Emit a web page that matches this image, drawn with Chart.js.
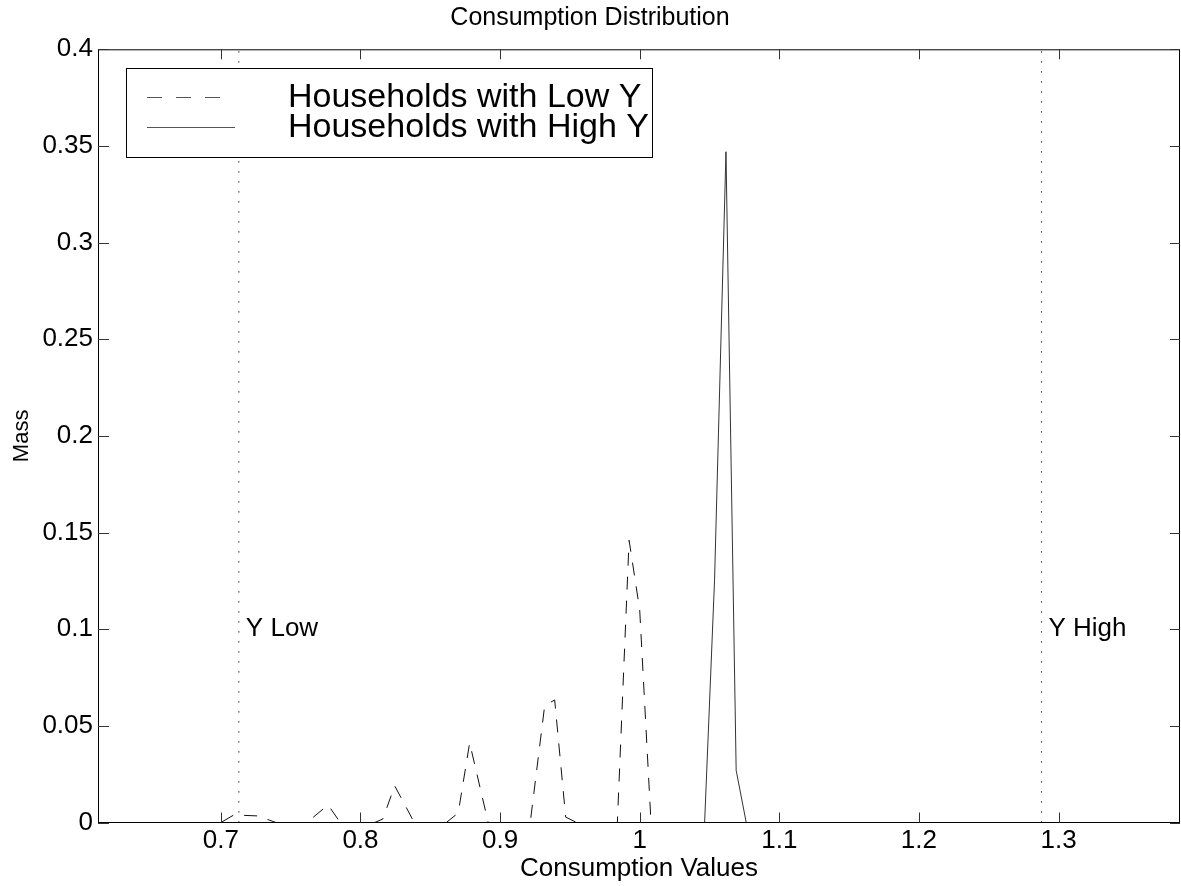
<!DOCTYPE html>
<html>
<head>
<meta charset="utf-8">
<script src="https://cdn.jsdelivr.net/npm/chart.js@4.4.1/dist/chart.umd.min.js"></script>
<style>
  html, body { margin: 0; padding: 0; background: #fff; }
  #wrap { width: 1181px; height: 886px; position: relative; }
</style>
</head>
<body>
<div id="wrap"><canvas id="myChart"></canvas></div>
<script>
// valores
const lowX = [0.615, 0.700, 0.7093, 0.7265, 0.7394, 0.7616, 0.7768, 0.7855, 0.8102, 0.8160, 0.8245, 0.8385,
  0.8615, 0.8700, 0.8782, 0.8915, 0.9216, 0.9319, 0.9391, 0.9470, 0.9548, 0.9840, 0.9924, 1.0000,
  1.0078, 1.0142, 1.385];
const lowY = [0, 0, 0.0039, 0.0034, 0, 0, 0.0091, 0, 0, 0.0018, 0.0190, 0,
  0, 0.0049, 0.0412, 0, 0, 0.0603, 0.0634, 0.0028, 0, 0, 0.146, 0.110,
  0.0041, 0, 0];
const highX = [0.615, 1.0465, 1.0536, 1.0618, 1.0691, 1.0763, 1.385];
const highY = [0, 0, 0.125, 0.347, 0.027, 0, 0];

const xTicks = [0.7, 0.8, 0.9, 1.0, 1.1, 1.2, 1.3];
const yTicks = [0, 0.05, 0.1, 0.15, 0.2, 0.25, 0.3, 0.35, 0.4];
const refX = [0.7129, 1.2878];
const refLabels = ['Y Low', 'Y High'];
const refLabelY = 0.1;
const seriesNames = ['Households with Low Y', 'Households with High Y'];

const FONT = "'Liberation Sans', Arial, Helvetica, sans-serif";
Chart.defaults.font.family = FONT;
Chart.defaults.color = '#000';

const pts = (xs, ys) => xs.map((v, i) => ({ x: v, y: ys[i] }));

// moldura, ticks para dentro, legenda e rótulos Y Low / Y High
const decor = {
  id: 'decor',
  afterDatasetsDraw(chart) {
    const { ctx, chartArea: a, scales: { x, y } } = chart;
    ctx.save();
    ctx.strokeStyle = '#000';
    ctx.lineWidth = 1;
    ctx.strokeRect(a.left + 0.5, a.top + 0.5, a.right - a.left - 1, a.bottom - a.top - 0.5);

    ctx.strokeStyle = '#333';
    ctx.beginPath();
    xTicks.forEach(v => {
      const px = Math.round(x.getPixelForValue(v)) + 0.5;
      ctx.moveTo(px, a.bottom); ctx.lineTo(px, a.bottom - 10);
      ctx.moveTo(px, a.top); ctx.lineTo(px, a.top + 10);
    });
    yTicks.forEach(v => {
      const py = Math.round(y.getPixelForValue(v)) + 0.5;
      ctx.moveTo(a.left, py); ctx.lineTo(a.left + 11, py);
      ctx.moveTo(a.right, py); ctx.lineTo(a.right - 10, py);
    });
    ctx.stroke();

    // Y Low / Y High
    ctx.fillStyle = '#000';
    ctx.font = '26px ' + FONT;
    ctx.textBaseline = 'middle';
    ctx.textAlign = 'left';
    refX.forEach((v, i) => {
      ctx.fillText(refLabels[i], x.getPixelForValue(v) + 7, y.getPixelForValue(refLabelY));
    });

    // legenda
    const bx = 126, by = 68, bw = 526, bh = 89;
    ctx.fillStyle = '#fff';
    ctx.fillRect(bx, by, bw, bh);
    ctx.strokeStyle = '#000';
    ctx.strokeRect(bx + 0.5, by + 0.5, bw, bh);

    ctx.strokeStyle = '#555';
    ctx.lineWidth = 1;
    ctx.setLineDash([15, 14]);
    ctx.beginPath();
    ctx.moveTo(147, 97.5); ctx.lineTo(221, 97.5);
    ctx.stroke();
    ctx.setLineDash([]);
    ctx.beginPath();
    ctx.moveTo(147, 127.5); ctx.lineTo(235, 127.5);
    ctx.stroke();

    ctx.fillStyle = '#000';
    ctx.font = '34px ' + FONT;
    ctx.fillText(seriesNames[0], 288, 98);
    ctx.fillText(seriesNames[1], 288, 128);
    ctx.restore();
  }
};

const ctx = document.getElementById('myChart');

new Chart(ctx, {
  type: 'line',
  data: {
    datasets: [
      {
        label: seriesNames[0],
        data: pts(lowX, lowY),
        borderColor: '#111',
        borderWidth: 1,
        borderDash: [13, 11],
        pointRadius: 0,
        tension: 0,
      },
      {
        label: seriesNames[1],
        data: pts(highX, highY),
        borderColor: '#333',
        borderWidth: 1,
        pointRadius: 0,
        tension: 0,
      },
      ...refX.map((v, i) => ({
        label: refLabels[i],
        data: [{ x: v, y: 0 }, { x: v, y: 0.4 }],
        borderColor: '#000',
        borderWidth: 1,
        borderDash: [1.2, 8.8],
        pointRadius: 0,
      })),
    ],
  },
  options: {
    responsive: true,
    maintainAspectRatio: false,
    animation: false,
    layout: { padding: { left: 0, right: 1, top: 0, bottom: 0 } },
    scales: {
      x: {
        type: 'linear',
        min: 0.612,
        max: 1.387,
        grid: { display: false, drawTicks: false },
        border: { display: false },
        afterBuildTicks: (s) => { s.ticks = xTicks.map(v => ({ value: v })); },
        afterFit: (s) => { s.height = 63.5; },
        ticks: {
          padding: 3,
          maxRotation: 0,
          autoSkip: false,
          font: { size: 26 },
          callback: (v) => String(+Number(v).toFixed(2)),
        },
        title: {
          display: true,
          text: 'Consumption Values',
          font: { size: 26 },
          padding: { top: 0, bottom: 2 },
        },
      },
      y: {
        min: 0,
        max: 0.4,
        grid: { display: false, drawTicks: false },
        border: { display: false },
        afterBuildTicks: (s) => { s.ticks = yTicks.map(v => ({ value: v })); },
        afterFit: (s) => { s.width = 98; },
        ticks: {
          padding: 5,
          font: { size: 26 },
          callback: (v) => String(+Number(v).toFixed(2)),
        },
        title: {
          display: true,
          text: 'Mass',
          font: { size: 22 },
          padding: { top: 9, bottom: 0 },
        },
      },
    },
    plugins: {
      legend: { display: false },
      tooltip: { enabled: false },
      title: {
        display: true,
        text: 'Consumption Distribution',
        font: { size: 25, weight: 'normal' },
        color: '#000',
        padding: { top: 3.5, bottom: 15.8 },
      },
    },
  },
  plugins: [decor],
});
</script>
</body>
</html>
